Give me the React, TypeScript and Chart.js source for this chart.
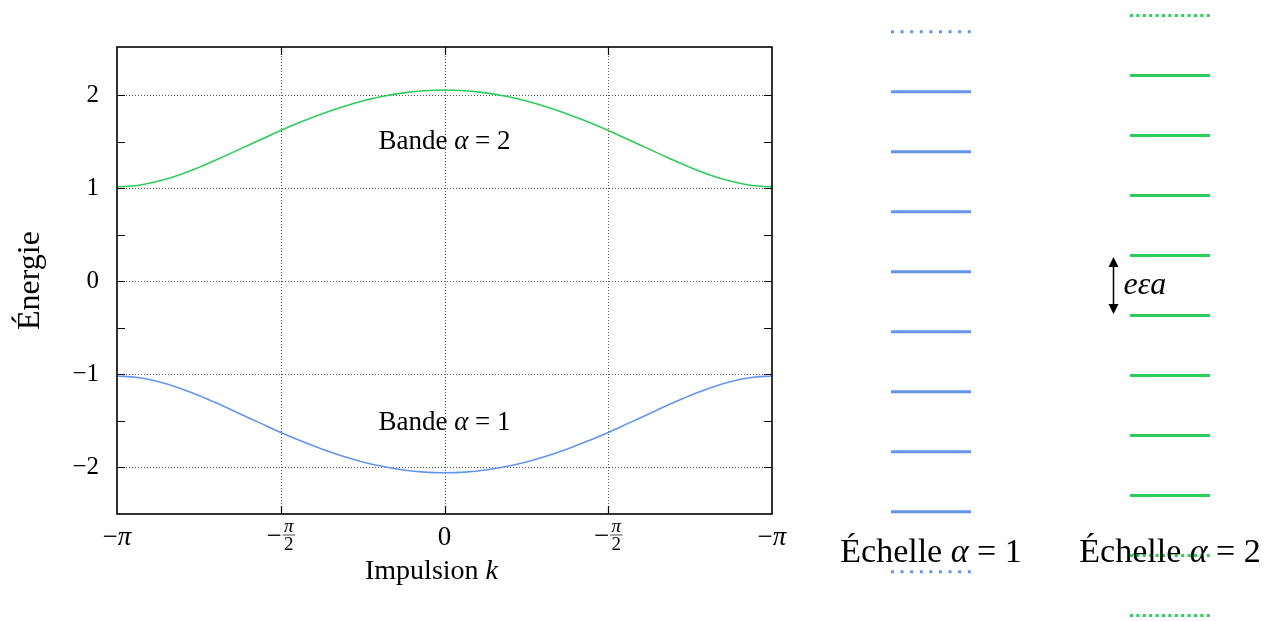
import React, { useEffect, useRef } from "react";
import { Chart, registerables } from "chart.js";

Chart.register(...registerables);

const FONT = "'Liberation Serif', 'DejaVu Serif', 'Times New Roman', serif";
const BLUE = "#6495ED";
const GREEN = "#2ECC59";

// Band structure samples (k in radians, energies)
const K_VALUES = [
  -3.1416, -2.9452, -2.7489, -2.5525, -2.3562, -2.1598, -1.9635, -1.7671,
  -1.5708, -1.3744, -1.1781, -0.9817, -0.7854, -0.589, -0.3927, -0.1963, 0,
  0.1963, 0.3927, 0.589, 0.7854, 0.9817, 1.1781, 1.3744, 1.5708, 1.7671,
  1.9635, 2.1598, 2.3562, 2.5525, 2.7489, 2.9452, 3.1416,
];
const BAND_2 = [
  1.017, 1.032, 1.076, 1.142, 1.226, 1.321, 1.422, 1.523, 1.623, 1.716, 1.801,
  1.876, 1.94, 1.99, 2.027, 2.05, 2.057, 2.05, 2.027, 1.99, 1.94, 1.876, 1.801,
  1.716, 1.623, 1.523, 1.422, 1.321, 1.226, 1.142, 1.076, 1.032, 1.017,
];
const BAND_1 = [
  -1.017, -1.032, -1.076, -1.142, -1.226, -1.321, -1.422, -1.523, -1.623,
  -1.716, -1.801, -1.876, -1.94, -1.99, -2.027, -2.05, -2.057, -2.05, -2.027,
  -1.99, -1.94, -1.876, -1.801, -1.716, -1.623, -1.523, -1.422, -1.321, -1.226,
  -1.142, -1.076, -1.032, -1.017,
];

const Y_MIN = -2.5;
const Y_MAX = 2.52;
const Y_MAJOR = [-2, -1, 0, 1, 2];
const Y_MAJOR_LABELS = ["−2", "−1", "0", "1", "2"];
const Y_MINOR = [-1.5, -0.5, 0.5, 1.5];
const X_TICK_VALUES = [-3.1416, -1.5708, 0, 1.5708, 3.1416];
const X_TICK_LABELS = ["−$π$", "−$π$/2", "0", "−$π$/2", "−$π$"];
const X_GRID = [-1.5708, 0, 1.5708];

const X_TITLE = "Impulsion $k$";
const Y_TITLE = "Énergie";

const BAND_LABEL_TEXT = ["Bande $α$ = 2", "Bande $α$ = 1"];
const BAND_LABEL_K = [0, 0];
const BAND_LABEL_E = [1.5, -1.52];

// Wannier-Stark ladders (levels in units of eεa)
const LADDER_COLUMNS = [1, 2];
const LADDER_LABELS = ["Échelle $α$ = 1", "Échelle $α$ = 2"];
const LADDER_1_SOLID = [3.5, 2.5, 1.5, 0.5, -0.5, -1.5, -2.5, -3.5];
const LADDER_1_DOTTED = [4.5, -4.5];
const LADDER_2_SOLID = [3.77, 2.77, 1.77, 0.77, -0.23, -1.23, -2.23, -3.23];
const LADDER_2_DOTTED = [4.77, -4.23, -5.23];
const ARROW_COLUMN_OFFSET = -0.2385;
const ARROW_FROM = 0.77;
const ARROW_TO = -0.23;
const ARROW_TEXT = "$eεa$";

type Run = { t: string; it: boolean };

function parseRuns(s: string): Run[] {
  return s
    .split("$")
    .map((t, i) => ({ t, it: i % 2 === 1 }))
    .filter((r) => r.t.length > 0);
}

function fontOf(it: boolean, size: number) {
  return `${it ? "italic " : ""}${size}px ${FONT}`;
}

function drawRuns(
  ctx: CanvasRenderingContext2D,
  s: string,
  x: number,
  y: number,
  size: number,
  align: "left" | "center" | "right",
  baseline: CanvasTextBaseline
) {
  const runs = parseRuns(s);
  const widths = runs.map((r) => {
    ctx.font = fontOf(r.it, size);
    return ctx.measureText(r.t).width;
  });
  const total = widths.reduce((a, b) => a + b, 0);
  let cx = align === "center" ? x - total / 2 : align === "right" ? x - total : x;
  ctx.textAlign = "left";
  ctx.textBaseline = baseline;
  ctx.fillStyle = "#000";
  runs.forEach((r, i) => {
    ctx.font = fontOf(r.it, size);
    ctx.fillText(r.t, cx, y);
    cx += widths[i];
  });
}

function drawFraction(
  ctx: CanvasRenderingContext2D,
  label: string,
  x: number,
  axisBottom: number
) {
  const [top, den] = label.split("/");
  const hasMinus = top.startsWith("−");
  const num = top.replace("−", "");
  const fs = 19;
  const ms = 27;
  ctx.font = fontOf(true, fs);
  const numW = ctx.measureText(num.replace(/\$/g, "")).width;
  ctx.font = fontOf(false, fs);
  const denW = ctx.measureText(den).width;
  const fracW = Math.max(numW, denW) + 3;
  ctx.font = fontOf(false, ms);
  const minusW = hasMinus ? ctx.measureText("−").width : 0;
  const gap = hasMinus ? 1 : 0;
  const total = minusW + gap + fracW;
  const start = x - total / 2;
  const barY = axisBottom + 21;
  ctx.fillStyle = "#000";
  if (hasMinus) {
    ctx.font = fontOf(false, ms);
    ctx.textAlign = "left";
    ctx.textBaseline = "alphabetic";
    ctx.fillText("−", start, barY + 9);
  }
  const fx = start + minusW + gap;
  ctx.strokeStyle = "#000";
  ctx.lineWidth = 0.7;
  ctx.setLineDash([]);
  ctx.beginPath();
  ctx.moveTo(fx, barY);
  ctx.lineTo(fx + fracW, barY);
  ctx.stroke();
  drawRuns(ctx, num, fx + fracW / 2, barY - 3, fs, "center", "alphabetic");
  drawRuns(ctx, den, fx + fracW / 2, barY + 15, fs, "center", "alphabetic");
}

const bandDecor = {
  id: "bandDecor",
  beforeDatasetsDraw(chart: any) {
    const { ctx, chartArea: a, scales } = chart;
    const x = scales.x;
    const y = scales.y;
    ctx.save();
    ctx.strokeStyle = "#555";
    ctx.lineWidth = 1;
    ctx.setLineDash([1, 2]);
    Y_MAJOR.forEach((v) => {
      const py = Math.round(y.getPixelForValue(v)) + 0.5;
      ctx.beginPath();
      ctx.moveTo(a.left, py);
      ctx.lineTo(a.right, py);
      ctx.stroke();
    });
    X_GRID.forEach((v) => {
      const px = Math.round(x.getPixelForValue(v)) + 0.5;
      ctx.beginPath();
      ctx.moveTo(px, a.top);
      ctx.lineTo(px, a.bottom);
      ctx.stroke();
    });
    ctx.restore();
  },
  afterDatasetsDraw(chart: any) {
    const { ctx, chartArea: a, scales } = chart;
    const x = scales.x;
    const y = scales.y;
    ctx.save();
    ctx.setLineDash([]);
    ctx.strokeStyle = "#000";
    // inward tick marks
    ctx.lineWidth = 1.2;
    const tl = 8;
    [...Y_MAJOR, ...Y_MINOR].forEach((v) => {
      const py = Math.round(y.getPixelForValue(v)) + 0.5;
      ctx.beginPath();
      ctx.moveTo(a.left, py);
      ctx.lineTo(a.left + tl, py);
      ctx.moveTo(a.right, py);
      ctx.lineTo(a.right - tl, py);
      ctx.stroke();
    });
    X_GRID.forEach((v) => {
      const px = Math.round(x.getPixelForValue(v)) + 0.5;
      ctx.beginPath();
      ctx.moveTo(px, a.top);
      ctx.lineTo(px, a.top + tl);
      ctx.moveTo(px, a.bottom);
      ctx.lineTo(px, a.bottom - tl);
      ctx.stroke();
    });
    // frame
    ctx.lineWidth = 1.6;
    ctx.strokeRect(a.left, a.top, a.right - a.left, a.bottom - a.top);

    // x tick labels
    X_TICK_VALUES.forEach((v, i) => {
      const px = x.getPixelForValue(v);
      const lab = X_TICK_LABELS[i];
      if (lab.includes("/")) {
        drawFraction(ctx, lab, px, a.bottom);
      } else {
        drawRuns(ctx, lab, px, a.bottom + 31, 27, "center", "alphabetic");
      }
    });
    // x title
    drawRuns(ctx, X_TITLE, (a.left + a.right) / 2 - 13, a.bottom + 65, 28, "center", "alphabetic");

    // band labels
    BAND_LABEL_TEXT.forEach((t, i) => {
      drawRuns(
        ctx,
        t,
        x.getPixelForValue(BAND_LABEL_K[i]),
        y.getPixelForValue(BAND_LABEL_E[i]),
        27,
        "center",
        "middle"
      );
    });
    ctx.restore();
  },
};

const ladderDecor = {
  id: "ladderDecor",
  afterDatasetsDraw(chart: any) {
    const { ctx, scales } = chart;
    const x = scales.x;
    const y = scales.y;
    ctx.save();
    LADDER_COLUMNS.forEach((c, i) => {
      drawRuns(ctx, LADDER_LABELS[i], x.getPixelForValue(c), 562, 34, "center", "alphabetic");
    });
    const ax = Math.round(x.getPixelForValue(LADDER_COLUMNS[1] + ARROW_COLUMN_OFFSET)) + 0.5;
    const y1 = y.getPixelForValue(ARROW_FROM) + 1.5;
    const y2 = y.getPixelForValue(ARROW_TO) - 1.5;
    const hl = 10;
    const hw = 5;
    ctx.strokeStyle = "#000";
    ctx.fillStyle = "#000";
    ctx.lineWidth = 1.5;
    ctx.beginPath();
    ctx.moveTo(ax, y1 + hl - 1);
    ctx.lineTo(ax, y2 - hl + 1);
    ctx.stroke();
    ctx.beginPath();
    ctx.moveTo(ax, y1);
    ctx.lineTo(ax - hw, y1 + hl);
    ctx.lineTo(ax + hw, y1 + hl);
    ctx.closePath();
    ctx.fill();
    ctx.beginPath();
    ctx.moveTo(ax, y2);
    ctx.lineTo(ax - hw, y2 - hl);
    ctx.lineTo(ax + hw, y2 - hl);
    ctx.closePath();
    ctx.fill();
    drawRuns(ctx, ARROW_TEXT, ax + 10, (y1 + y2) / 2, 32, "left", "middle");
    ctx.restore();
  },
};

function rung(col: number, level: number, color: string, dotted: boolean, dash: number[]) {
  const hw = 0.1674;
  return {
    data: [
      { x: col - hw, y: level },
      { x: col + hw, y: level },
    ],
    borderColor: color,
    borderWidth: 3,
    borderDash: dotted ? dash : [],
    borderCapStyle: "butt",
    pointRadius: 0,
    fill: false,
  };
}

export default function App() {
  const bandRef = useRef<HTMLCanvasElement | null>(null);
  const ladderRef = useRef<HTMLCanvasElement | null>(null);

  useEffect(() => {
    if (!bandRef.current || !ladderRef.current) return;
    const band = new Chart(bandRef.current, {
      type: "line",
      data: {
        datasets: [
          {
            label: "Bande α = 2",
            data: K_VALUES.map((k, i) => ({ x: k, y: BAND_2[i] })),
            borderColor: GREEN,
            borderWidth: 1.6,
            pointRadius: 0,
            tension: 0.4,
            fill: false,
          },
          {
            label: "Bande α = 1",
            data: K_VALUES.map((k, i) => ({ x: k, y: BAND_1[i] })),
            borderColor: BLUE,
            borderWidth: 1.6,
            pointRadius: 0,
            tension: 0.4,
            fill: false,
          },
        ],
      },
      options: {
        responsive: false,
        animation: false,
        layout: { padding: { left: 0, top: 47, right: 1279 - 772, bottom: 621 - 514 } },
        plugins: { legend: { display: false }, tooltip: { enabled: false } },
        scales: {
          x: { type: "linear", min: -Math.PI, max: Math.PI, display: false },
          y: {
            type: "linear",
            min: Y_MIN,
            max: Y_MAX,
            afterFit: (s: any) => {
              s.width = 117;
            },
            afterBuildTicks: (s: any) => {
              s.ticks = Y_MAJOR.map((v) => ({ value: v }));
            },
            grid: { display: false, drawTicks: false },
            border: { display: false },
            ticks: {
              padding: 18,
              color: "#000",
              font: { family: FONT, size: 25 },
              callback: (v: any) => {
                const i = Y_MAJOR.indexOf(Number(v));
                return i >= 0 ? Y_MAJOR_LABELS[i] : "";
              },
            },
            title: {
              display: true,
              text: Y_TITLE,
              color: "#000",
              font: { family: FONT, size: 32 },
              padding: { top: 11, bottom: 0 },
            },
          },
        },
      } as any,
      plugins: [bandDecor],
    });

    const ladderSets: any[] = [];
    LADDER_1_SOLID.forEach((v) => ladderSets.push(rung(LADDER_COLUMNS[0], v, BLUE, false, [])));
    LADDER_1_DOTTED.forEach((v) => ladderSets.push(rung(LADDER_COLUMNS[0], v, BLUE, true, [3, 6.6])));
    LADDER_2_SOLID.forEach((v) => ladderSets.push(rung(LADDER_COLUMNS[1], v, GREEN, false, [])));
    LADDER_2_DOTTED.forEach((v) => ladderSets.push(rung(LADDER_COLUMNS[1], v, GREEN, true, [3, 3.4])));

    const ladder = new Chart(ladderRef.current, {
      type: "line",
      data: { datasets: ladderSets },
      options: {
        responsive: false,
        animation: false,
        layout: { padding: { left: 820, top: 0, right: 0, bottom: 0 } },
        plugins: { legend: { display: false }, tooltip: { enabled: false } },
        scales: {
          x: { type: "linear", min: 0.5356, max: 2.456, display: false },
          y: { type: "linear", min: -5.322, max: 5.028, display: false },
        },
      } as any,
      plugins: [ladderDecor],
    });

    return () => {
      band.destroy();
      ladder.destroy();
    };
  }, []);

  return (
    <div style={{ position: "absolute", left: 0, top: 0, width: 1279, height: 621, background: "#fff" }}>
      <canvas ref={bandRef} width={1279} height={621} style={{ position: "absolute", left: 0, top: 0 }} />
      <canvas ref={ladderRef} width={1279} height={621} style={{ position: "absolute", left: 0, top: 0 }} />
    </div>
  );
}
